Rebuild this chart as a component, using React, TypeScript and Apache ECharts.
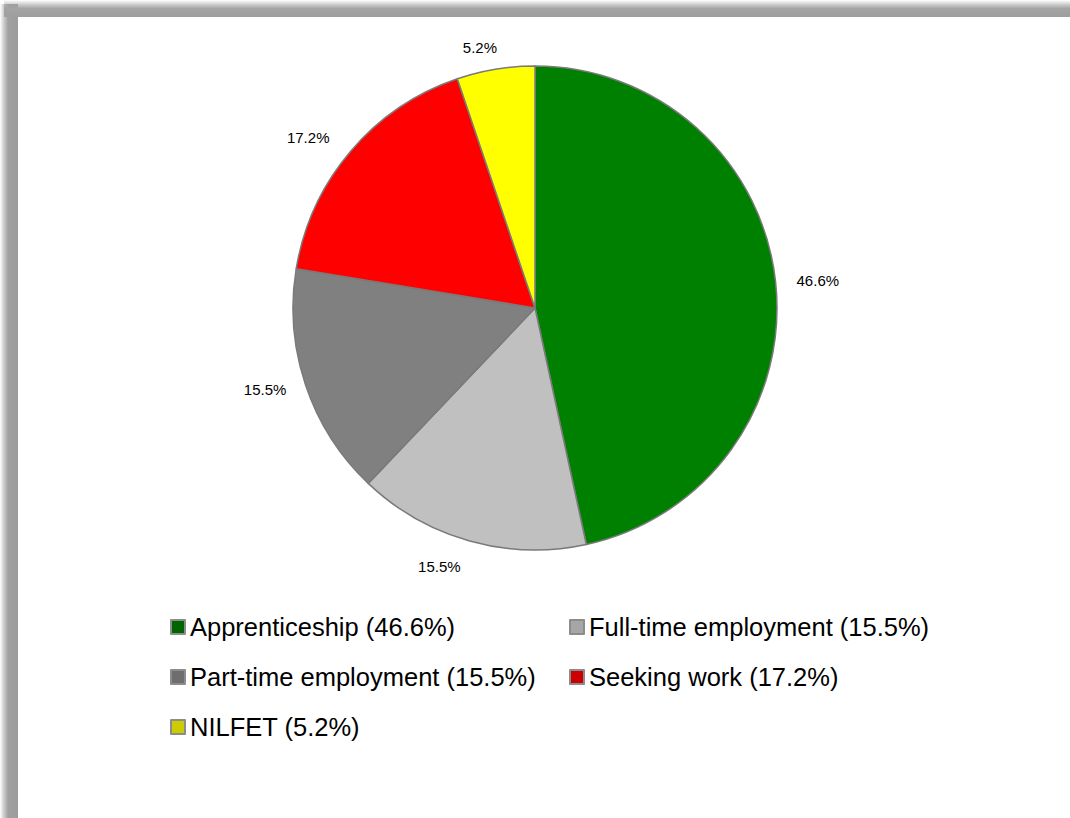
import React, { useEffect, useRef } from "react";
import * as echarts from "echarts";

const categories = [
  "Apprenticeship",
  "Full-time employment",
  "Part-time employment",
  "Seeking work",
  "NILFET",
];
const values = [46.6, 15.5, 15.5, 17.2, 5.2];
const sliceColors = ["#008000", "#c0c0c0", "#808080", "#ff0000", "#ffff00"];
const legendColors = ["#006400", "#a6a6a6", "#6e6e6e", "#cc0000", "#cccc00"];

export default function App() {
  const ref = useRef<HTMLDivElement>(null);

  useEffect(() => {
    if (!ref.current) return;
    const chart = echarts.init(ref.current, null, { renderer: "svg" });
    const font = "'Liberation Sans', Arial, sans-serif";
    const labelLengths = [16, 26, 15, 21, 22];
    const labelShiftX = [0, 3, 0, 0, 10];
    const data = categories.map((name, i) => ({
      name,
      value: values[i],
      itemStyle: { color: sliceColors[i] },
      labelLine: { show: false, length: labelLengths[i], length2: 0 },
    }));
    chart.setOption({
      animation: false,
      backgroundColor: "#ffffff",
      graphic: [
        {
          type: "rect",
          shape: { x: 0, y: 4, width: 18, height: 818 },
          style: {
            fill: new echarts.graphic.LinearGradient(0, 0, 1, 0, [
              { offset: 0, color: "rgba(160,160,160,0)" },
              { offset: 0.2, color: "rgba(160,160,160,0.5)" },
              { offset: 0.45, color: "#a0a0a0" },
              { offset: 1, color: "#9c9c9c" },
            ]),
          },
          silent: true,
        },
        {
          type: "rect",
          shape: { x: 4, y: 0, width: 1070, height: 17 },
          style: {
            fill: new echarts.graphic.LinearGradient(0, 0, 0, 1, [
              { offset: 0, color: "rgba(160,160,160,0)" },
              { offset: 0.25, color: "rgba(160,160,160,0.5)" },
              { offset: 0.5, color: "#a4a4a4" },
              { offset: 1, color: "#9e9e9e" },
            ]),
          },
          silent: true,
        },
      ],
      legend: {
        left: 170,
        top: 613,
        width: 840,
        padding: 0,
        orient: "horizontal",
        icon: "rect",
        itemWidth: 14,
        itemHeight: 14,
        itemGap: 22,
        itemStyle: { borderColor: "#8c8c8c", borderWidth: 2 },
        data: categories.map((name, i) => ({
          name,
          itemStyle: { color: legendColors[i] },
        })),
        formatter: (name: string) => {
          const i = categories.indexOf(name);
          return `${name} (${values[i].toFixed(1)}%)`;
        },
        textStyle: {
          fontFamily: font,
          fontSize: 25.5,
          color: "#000000",
          width: 357,
          lineHeight: 28,
          overflow: "none",
        },
      },
      series: [
        {
          type: "pie",
          center: [535, 308],
          radius: [0, 242],
          startAngle: 90,
          clockwise: true,
          avoidLabelOverlap: false,
          itemStyle: { borderColor: "#7a7a7a", borderWidth: 1.5 },
          label: {
            show: true,
            position: "outside",
            formatter: (p: any) => `${p.value.toFixed(1)}%`,
            fontFamily: font,
            fontSize: 15,
            color: "#000000",
          },
          labelLayout: (p: any) => ({ dx: labelShiftX[p.dataIndex] || 0 }),
          labelLine: { show: false },
          emphasis: { disabled: true },
          data,
        },
      ],
    });
    return () => chart.dispose();
  }, []);

  return (
    <div
      ref={ref}
      style={{ position: "absolute", left: 0, top: 0, width: 1070, height: 818 }}
    />
  );
}
